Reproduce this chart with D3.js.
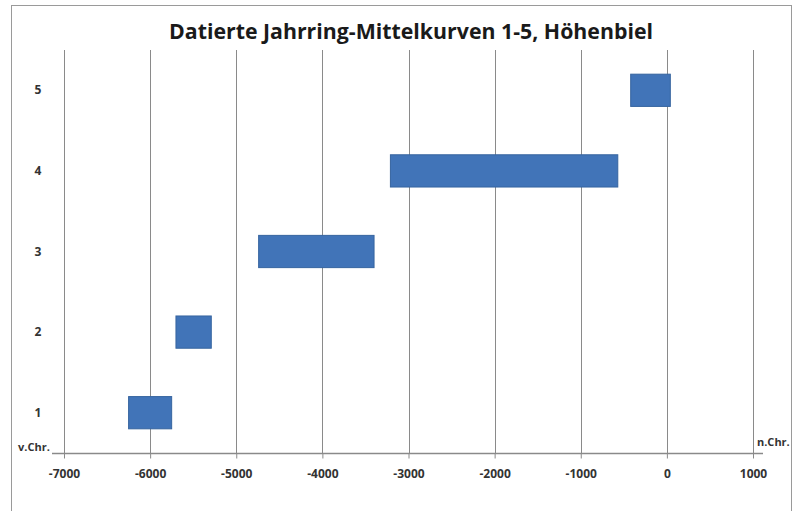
<!DOCTYPE html>
<html>
<head>
<meta charset="utf-8">
<script src="https://cdn.jsdelivr.net/npm/d3@7"></script>
<style>
  body { margin: 0; background: #fff; }
  text { font-family: "Open Sans", "Noto Sans", sans-serif; }
</style>
</head>
<body>
<svg id="chart" width="796" height="511"></svg>
<script>
// Mittelkurven 1-5, Zeitspanne (Jahre, negativ = v.Chr.)
var kurven = ["1", "2", "3", "4", "5"]
var startJahr = [-6250, -5700, -4740, -3210, -420]
var endJahr = [-5750, -5290, -3400, -570, 40]
var xTicks = [-7000, -6000, -5000, -4000, -3000, -2000, -1000, 0, 1000]

var svg = d3.select("#chart")

// Rahmen
svg.append("rect")
    .attr("x", 11.5).attr("y", 5.5)
    .attr("width", 780).attr("height", 520)
    .attr("fill", "#fff").attr("stroke", "#9a9a9a")

svg.append("text")
    .attr("x", 411).attr("y", 39)
    .attr("text-anchor", "middle")
    .attr("font-size", 21).attr("font-weight", "bold")
    .attr("textLength", 484).attr("lengthAdjust", "spacingAndGlyphs")
    .attr("fill", "#1a1a1a")
    .text("Datierte Jahrring-Mittelkurven 1-5, Höhenbiel")

var x = d3.scaleLinear().domain([-7000, 1000]).range([64, 753])
var y = d3.scaleBand().domain(kurven.slice().reverse()).range([50, 453]).paddingInner(0.6).paddingOuter(0.3)

// vertikale Gitterlinien
svg.append("g")
    .selectAll("line")
    .data(xTicks)
    .enter()
    .append("line")
    .attr("x1", function (d) { return Math.round(x(d)) + 0.5 })
    .attr("x2", function (d) { return Math.round(x(d)) + 0.5 })
    .attr("y1", 50).attr("y2", 453)
    .attr("stroke", "#8a8a8a")

// x-Achse
var xAxis = svg.append("g")
    .attr("transform", "translate(0,453.5)")
    .call(d3.axisBottom(x).tickValues(xTicks).tickSize(5).tickPadding(11).tickFormat(function (d) { return String(d) }))
xAxis.select(".domain").remove()
xAxis.selectAll(".tick line").attr("stroke", "#8a8a8a")
xAxis.selectAll(".tick text")
    .attr("font-size", 12).attr("font-weight", "bold")
    .attr("fill", "#333")
    .style("font-family", "'Open Sans', sans-serif")
svg.append("line")
    .attr("x1", 52).attr("x2", 763)
    .attr("y1", 453.5).attr("y2", 453.5)
    .attr("stroke", "#8a8a8a").attr("stroke-width", 1.5)

// y-Beschriftung
kurven.forEach(function (k) {
    svg.append("text")
        .attr("x", 38).attr("y", y(k) + y.bandwidth() / 2 + 4)
        .attr("text-anchor", "middle")
        .attr("font-size", 12).attr("font-weight", "bold")
        .attr("fill", "#333")
        .text(k)
})

// Balken
svg.append("g")
    .selectAll("rect")
    .data(kurven)
    .enter()
    .append("rect")
    .attr("x", function (d, i) { return x(startJahr[i]) })
    .attr("width", function (d, i) { return x(endJahr[i]) - x(startJahr[i]) })
    .attr("y", function (d) { return y(d) })
    .attr("height", y.bandwidth())
    .attr("fill", "#4174b8")
    .attr("stroke", "#36649f")

svg.append("text")
    .attr("x", 18).attr("y", 451)
    .attr("font-size", 11).attr("font-weight", "bold").attr("fill", "#333")
    .text("v.Chr.")
svg.append("text")
    .attr("x", 757).attr("y", 446)
    .attr("font-size", 11).attr("font-weight", "bold").attr("fill", "#333")
    .text("n.Chr.")
</script>
</body>
</html>
